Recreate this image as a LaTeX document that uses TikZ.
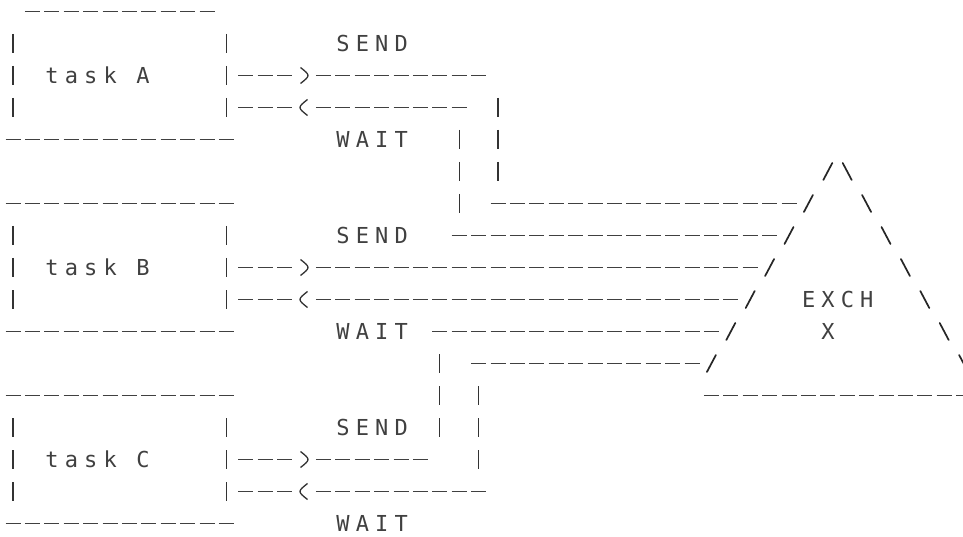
\documentclass[tikz,border=0pt]{standalone}
\usepackage{fontspec}
\newfontfamily\dotmx[LetterSpace=28.0]{DejaVu Sans Mono}
% grid: column c centre x = 13+19.4c, row r centre y = -(11.5+32r)
% a run of '-' characters in row #1 from column #2 to column #3
\newcommand\hrun[3]{\draw[dsh] ({13+19.4*(#2)-7.5},{-11.5-32*(#1)}) -- ({13+19.4*(#3)+7.5},{-11.5-32*(#1)});}
% '|' character
\newcommand\vbc[2]{\draw[ln] ({13+19.4*(#2)},{-11.5-32*(#1)+9.5}) -- ({13+19.4*(#2)},{-11.5-32*(#1)-9.5});}
% '/' character
\newcommand\fwdsl[2]{\draw[sl] ({13+19.4*(#2)-4.5},{-11.5-32*(#1)-8.5}) -- ({13+19.4*(#2)+4.5},{-11.5-32*(#1)+8.5});}
% '\' character
\newcommand\bksl[2]{\draw[sl] ({13+19.4*(#2)-4.5},{-11.5-32*(#1)+8.5}) -- ({13+19.4*(#2)+4.5},{-11.5-32*(#1)-8.5});}
% '>' character
\newcommand\gtc[2]{\draw[ln] ({13+19.4*(#2)-3.5},{-11.5-32*(#1)+8}) .. controls ({13+19.4*(#2)+6.5},{-11.5-32*(#1)}) .. ({13+19.4*(#2)-3.5},{-11.5-32*(#1)-8});}
% '<' character
\newcommand\ltc[2]{\draw[ln] ({13+19.4*(#2)+3.5},{-11.5-32*(#1)+8}) .. controls ({13+19.4*(#2)-6.5},{-11.5-32*(#1)}) .. ({13+19.4*(#2)+3.5},{-11.5-32*(#1)-8});}
% text starting at column #3 in row #2, node name #1
\newcommand\txtat[4]{\node[txt] (#1) at ({13+19.4*(#3)-6.6},{-11.5-32*(#2)-8.0}) {#4};}
\begin{document}
\begin{tikzpicture}[x=1pt,y=1pt,
  ln/.style={draw=black!80,line width=1.3pt},
  dsh/.style={draw=black!75,line width=1.2pt,dash pattern=on 15pt off 4.4pt},
  sl/.style={draw=black!85,line width=1.7pt,line cap=round},
  txt/.style={anchor=base west,inner sep=0pt,text=black!75,font=\dotmx\fontsize{22}{22}\selectfont}]
\clip (0,0) rectangle (963,-537);
\useasboundingbox (0,0) rectangle (963,-537);
\fill[white] (0,0) rectangle (963,-537);
% ---- task A ----
\hrun{0}{1}{10}
\vbc{1}{0} \vbc{1}{11} \txtat{sendA}{1}{17}{SEND}
\vbc{2}{0} \txtat{taskA}{2}{2}{task A} \vbc{2}{11} \hrun{2}{12}{14} \gtc{2}{15} \hrun{2}{16}{24}
\vbc{3}{0} \vbc{3}{11} \hrun{3}{12}{14} \ltc{3}{15} \hrun{3}{16}{23} \vbc{3}{25}
\hrun{4}{0}{11} \txtat{waitA}{4}{17}{WAIT} \vbc{4}{23} \vbc{4}{25}
\vbc{5}{23} \vbc{5}{25} \fwdsl{5}{42} \bksl{5}{43}
% ---- task B ----
\hrun{6}{0}{11} \vbc{6}{23} \hrun{6}{25}{40} \fwdsl{6}{41} \bksl{6}{44}
\vbc{7}{0} \vbc{7}{11} \txtat{sendB}{7}{17}{SEND} \hrun{7}{23}{39} \fwdsl{7}{40} \bksl{7}{45}
\vbc{8}{0} \txtat{taskB}{8}{2}{task B} \vbc{8}{11} \hrun{8}{12}{14} \gtc{8}{15} \hrun{8}{16}{38} \fwdsl{8}{39} \bksl{8}{46}
\vbc{9}{0} \vbc{9}{11} \hrun{9}{12}{14} \ltc{9}{15} \hrun{9}{16}{37} \fwdsl{9}{38} \txtat{exch}{9}{41}{EXCH} \bksl{9}{47}
\hrun{10}{0}{11} \txtat{waitB}{10}{17}{WAIT} \hrun{10}{22}{36} \fwdsl{10}{37} \txtat{exchx}{10}{42}{X} \bksl{10}{48}
\vbc{11}{22} \hrun{11}{24}{35} \fwdsl{11}{36} \bksl{11}{49}
% ---- task C ----
\hrun{12}{0}{11} \vbc{12}{22} \vbc{12}{24} \hrun{12}{36}{49}
\vbc{13}{0} \vbc{13}{11} \txtat{sendC}{13}{17}{SEND} \vbc{13}{22} \vbc{13}{24}
\vbc{14}{0} \txtat{taskC}{14}{2}{task C} \vbc{14}{11} \hrun{14}{12}{14} \gtc{14}{15} \hrun{14}{16}{21} \vbc{14}{24}
\vbc{15}{0} \vbc{15}{11} \hrun{15}{12}{14} \ltc{15}{15} \hrun{15}{16}{24}
\hrun{16}{0}{11} \txtat{waitC}{16}{17}{WAIT}
\end{tikzpicture}
\end{document}
